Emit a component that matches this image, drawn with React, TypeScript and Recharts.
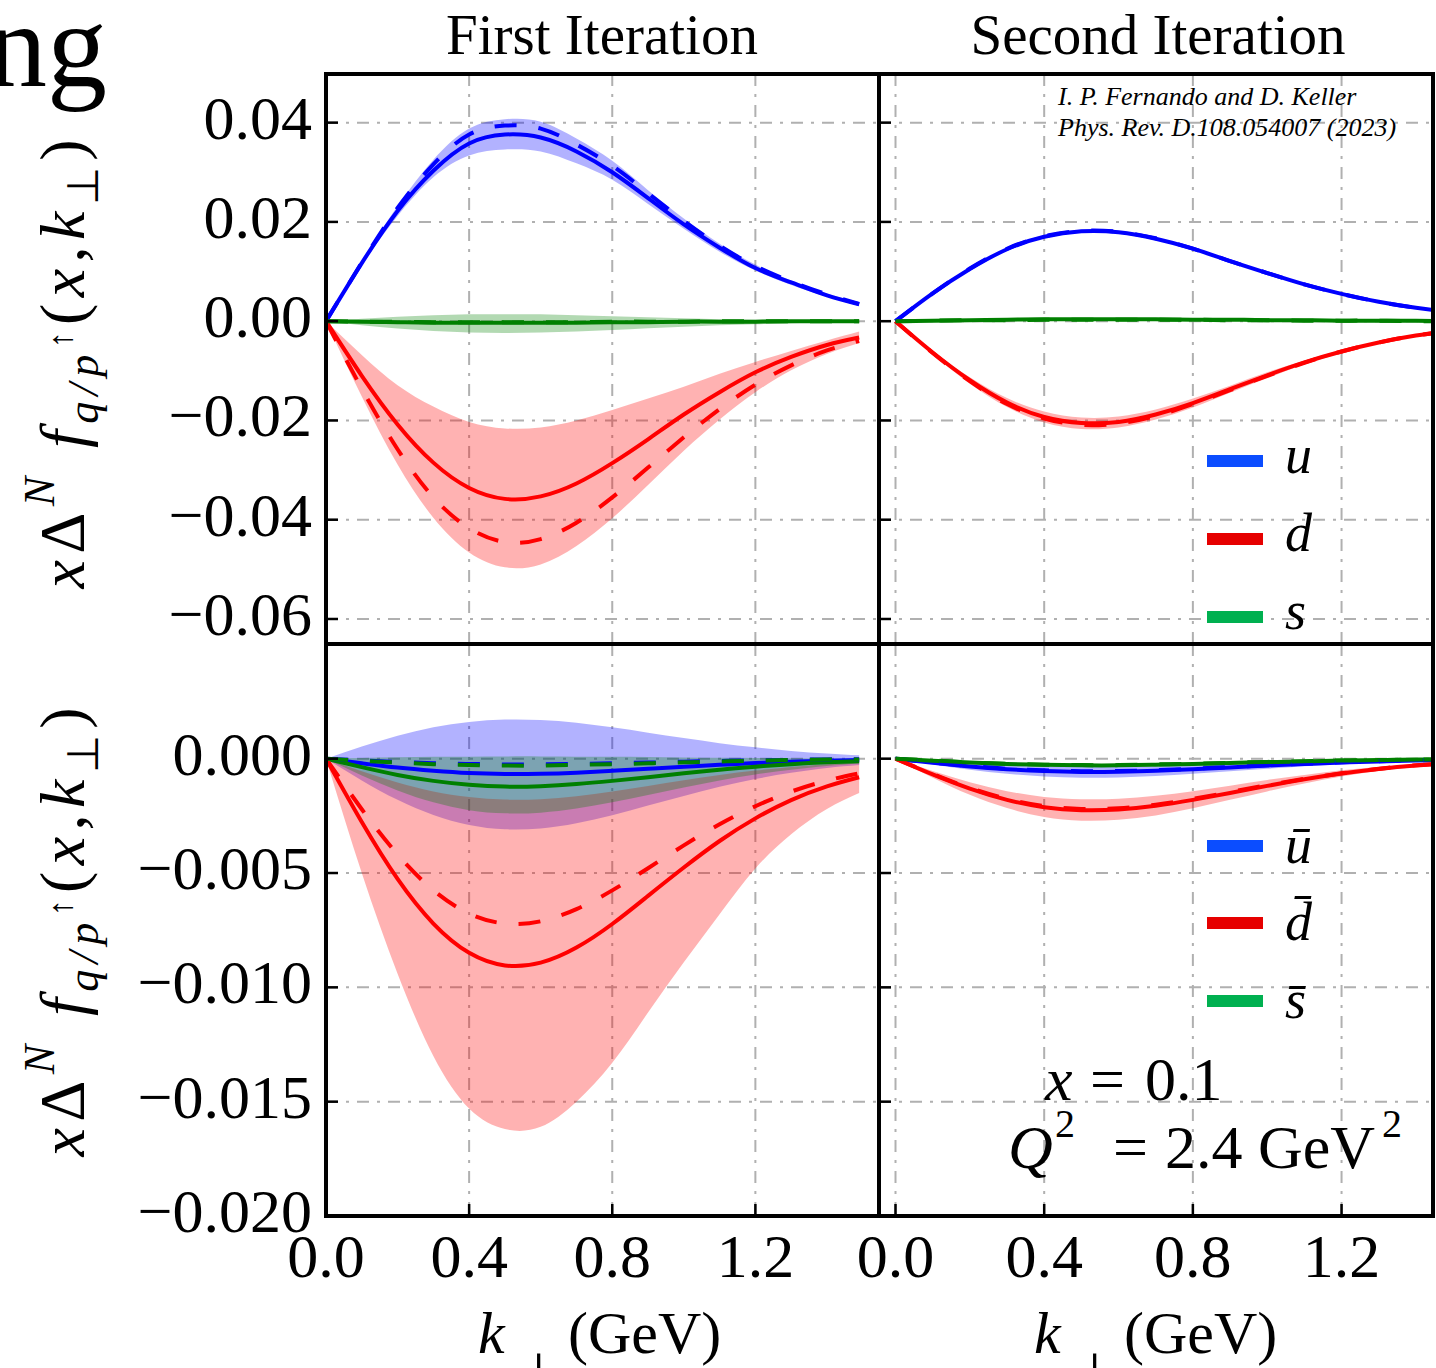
import React from 'react'
import { ComposedChart, Line, Area, XAxis, YAxis, CartesianGrid } from 'recharts'

const SERIF = '"Liberation Serif", "Times New Roman", Times, serif'
const BLUE = '#0000ff'
const RED = '#ff0000'
const GREEN = '#008000'

// transverse momentum grid (GeV)
const kPerp = [0, 0.1, 0.2, 0.3, 0.4, 0.5, 0.6, 0.7, 0.8, 0.9, 1.0, 1.1, 1.2, 1.3, 1.4, 1.49]

// ---- first iteration, quarks
const uSolid1 = [0, 0.0117, 0.0222, 0.0303, 0.0358, 0.0376, 0.0370, 0.0342, 0.0300, 0.0248, 0.0195, 0.0148, 0.0107, 0.0078, 0.0052, 0.0034]
const uDash1 = [0, 0.0118, 0.0228, 0.0316, 0.0376, 0.0394, 0.0388, 0.0356, 0.0313, 0.0258, 0.0202, 0.0152, 0.0111, 0.0080, 0.0054, 0.0035]
const uLo1 = [0, 0.0113, 0.0212, 0.0290, 0.0334, 0.0346, 0.0342, 0.0318, 0.0285, 0.0236, 0.0186, 0.0140, 0.0102, 0.0073, 0.0049, 0.0032]
const uHi1 = [0, 0.0121, 0.0232, 0.0325, 0.0388, 0.0407, 0.0402, 0.0368, 0.0323, 0.0264, 0.0207, 0.0156, 0.0114, 0.0082, 0.0056, 0.0037]
const dSolid1 = [0, -0.0110, -0.0208, -0.0285, -0.0336, -0.0358, -0.0353, -0.0327, -0.0286, -0.0238, -0.0188, -0.0143, -0.0103, -0.0072, -0.0048, -0.0033]
const dDash1 = [0, -0.0136, -0.0258, -0.0355, -0.0417, -0.0445, -0.0439, -0.0406, -0.0355, -0.0295, -0.0234, -0.0177, -0.0128, -0.0089, -0.0059, -0.0040]
const dLo1 = [0, -0.0152, -0.0289, -0.0396, -0.0466, -0.0496, -0.0490, -0.0453, -0.0397, -0.0330, -0.0261, -0.0198, -0.0143, -0.0099, -0.0066, -0.0044]
const dHi1 = [0, -0.0068, -0.0129, -0.0172, -0.0203, -0.0216, -0.0214, -0.0200, -0.0179, -0.0156, -0.0132, -0.0106, -0.0082, -0.0060, -0.0039, -0.0021]
const sSolid1 = [0, -0.0001, -0.0002, -0.0003, -0.0003, -0.0003, -0.0003, -0.0003, -0.0002, -0.0002, -0.0001, -0.0001, -0.0001, 0, 0, 0]
const sDash1 = [0, -0.0001, -0.0001, -0.0002, -0.0002, -0.0002, -0.0002, -0.0002, -0.0001, -0.0001, -0.0001, 0, 0, 0, 0, 0]
const sLo1 = [0, -0.0008, -0.0015, -0.0020, -0.0023, -0.0024, -0.0023, -0.0021, -0.0018, -0.0014, -0.0011, -0.0008, -0.0006, -0.0004, -0.0003, -0.0002]
const sHi1 = [0, 0.0005, 0.0009, 0.0012, 0.0014, 0.0014, 0.0014, 0.0012, 0.0010, 0.0008, 0.0006, 0.0004, 0.0003, 0.0002, 0.0001, 0.0001]

// ---- second iteration, quarks
const uSolid2 = [0, 0.0056, 0.0105, 0.0145, 0.0170, 0.0181, 0.0179, 0.0166, 0.0146, 0.0121, 0.0097, 0.0074, 0.0055, 0.0039, 0.0027, 0.0019]
const uDash2 = [0, 0.0056, 0.0106, 0.0146, 0.0171, 0.0182, 0.0180, 0.0167, 0.0146, 0.0121, 0.0097, 0.0074, 0.0055, 0.0039, 0.0027, 0.0019]
const uLo2 = [0, 0.0055, 0.0103, 0.0142, 0.0167, 0.0178, 0.0176, 0.0163, 0.0144, 0.0119, 0.0095, 0.0073, 0.0054, 0.0038, 0.0026, 0.0018]
const uHi2 = [0, 0.0057, 0.0107, 0.0148, 0.0173, 0.0184, 0.0182, 0.0169, 0.0148, 0.0123, 0.0099, 0.0075, 0.0056, 0.0040, 0.0028, 0.0020]
const dSolid2 = [0, -0.0063, -0.0119, -0.0164, -0.0193, -0.0205, -0.0203, -0.0188, -0.0165, -0.0137, -0.0109, -0.0083, -0.0061, -0.0043, -0.0029, -0.0020]
const dDash2 = [0, -0.0064, -0.0121, -0.0167, -0.0196, -0.0209, -0.0206, -0.0191, -0.0167, -0.0139, -0.0110, -0.0084, -0.0061, -0.0043, -0.0029, -0.0020]
const dLo2 = [0, -0.0066, -0.0126, -0.0173, -0.0204, -0.0217, -0.0214, -0.0198, -0.0174, -0.0144, -0.0115, -0.0087, -0.0064, -0.0045, -0.0030, -0.0021]
const dHi2 = [0, -0.0060, -0.0113, -0.0155, -0.0182, -0.0194, -0.0192, -0.0178, -0.0156, -0.0130, -0.0103, -0.0079, -0.0058, -0.0041, -0.0028, -0.0019]
const sSolid2 = [0, 0.0001, 0.0002, 0.0003, 0.0004, 0.0004, 0.0004, 0.0004, 0.0003, 0.0003, 0.0002, 0.0002, 0.0001, 0.0001, 0.0001, 0]
const sDash2 = [0, 0.0001, 0.0002, 0.0002, 0.0003, 0.0003, 0.0003, 0.0003, 0.0003, 0.0002, 0.0002, 0.0001, 0.0001, 0.0001, 0, 0]
const sLo2 = [0, 0, 0.0001, 0.0001, 0.0002, 0.0002, 0.0002, 0.0002, 0.0002, 0.0001, 0.0001, 0.0001, 0, 0, 0, 0]
const sHi2 = [0, 0.0002, 0.0003, 0.0004, 0.0005, 0.0005, 0.0005, 0.0005, 0.0004, 0.0004, 0.0003, 0.0002, 0.0002, 0.0001, 0.0001, 0.0001]

// ---- first iteration, antiquarks
const ubSolid1 = [0, -0.00020, -0.00039, -0.00053, -0.00063, -0.00067, -0.00066, -0.00061, -0.00053, -0.00044, -0.00035, -0.00027, -0.00019, -0.00013, -0.00009, -0.00006]
const ubDash1 = [0, -0.00008, -0.00014, -0.00020, -0.00023, -0.00025, -0.00025, -0.00023, -0.00020, -0.00017, -0.00013, -0.00010, -0.00007, -0.00005, -0.00003, -0.00002]
const ubLo1 = [0, -0.00095, -0.00180, -0.00246, -0.00290, -0.00309, -0.00305, -0.00282, -0.00247, -0.00205, -0.00163, -0.00123, -0.00089, -0.00062, -0.00041, -0.00028]
const ubHi1 = [0, 0.00053, 0.00100, 0.00137, 0.00161, 0.00171, 0.00169, 0.00157, 0.00137, 0.00114, 0.00090, 0.00068, 0.00050, 0.00034, 0.00023, 0.00015]
const dbSolid1 = [0, -0.00277, -0.00526, -0.00721, -0.00849, -0.00904, -0.00892, -0.00826, -0.00723, -0.00600, -0.00476, -0.00360, -0.00261, -0.00181, -0.00121, -0.00081]
const dbDash1 = [0, -0.00221, -0.00419, -0.00575, -0.00677, -0.00721, -0.00711, -0.00658, -0.00576, -0.00479, -0.00379, -0.00287, -0.00208, -0.00144, -0.00096, -0.00064]
const dbLo1 = [0, -0.0050, -0.0094, -0.0130, -0.0153, -0.0162, -0.0161, -0.0150, -0.0133, -0.0111, -0.0089, -0.0068, -0.0048, -0.0033, -0.0022, -0.0015]
const dbHi1 = [0, -0.00055, -0.00104, -0.00143, -0.00168, -0.00179, -0.00177, -0.00164, -0.00143, -0.00119, -0.00094, -0.00071, -0.00052, -0.00036, -0.00024, -0.00016]
const sbSolid1 = [0, -0.00037, -0.00071, -0.00097, -0.00114, -0.00122, -0.00120, -0.00111, -0.00097, -0.00081, -0.00064, -0.00048, -0.00035, -0.00024, -0.00016, -0.00011]
const sbDash1 = [0, -0.00009, -0.00017, -0.00024, -0.00028, -0.00030, -0.00030, -0.00027, -0.00024, -0.00020, -0.00016, -0.00012, -0.00009, -0.00006, -0.00004, -0.00003]
const sbLo1 = [0, -0.00073, -0.00139, -0.00191, -0.00225, -0.00239, -0.00236, -0.00218, -0.00191, -0.00159, -0.00126, -0.00095, -0.00069, -0.00048, -0.00032, -0.00021]
const sbHi1 = [0, 0.00003, 0.00006, 0.00008, 0.00009, 0.00010, 0.00010, 0.00009, 0.00008, 0.00007, 0.00005, 0.00004, 0.00003, 0.00002, 0.00001, 0.00001]

// ---- second iteration, antiquarks
const ubSolid2 = [0, -0.00018, -0.00034, -0.00046, -0.00054, -0.00058, -0.00057, -0.00053, -0.00046, -0.00038, -0.00030, -0.00023, -0.00017, -0.00012, -0.00008, -0.00005]
const ubDash2 = [0, -0.00017, -0.00032, -0.00044, -0.00051, -0.00055, -0.00054, -0.00050, -0.00044, -0.00036, -0.00029, -0.00022, -0.00016, -0.00011, -0.00007, -0.00005]
const ubLo2 = [0, -0.00025, -0.00048, -0.00066, -0.00078, -0.00083, -0.00082, -0.00076, -0.00066, -0.00055, -0.00044, -0.00033, -0.00024, -0.00017, -0.00011, -0.00007]
const ubHi2 = [0, -0.00011, -0.00021, -0.00029, -0.00034, -0.00036, -0.00035, -0.00033, -0.00029, -0.00024, -0.00019, -0.00014, -0.00010, -0.00007, -0.00005, -0.00003]
const dbSolid2 = [0, -0.00069, -0.00131, -0.00180, -0.00212, -0.00225, -0.00222, -0.00206, -0.00180, -0.00150, -0.00119, -0.00090, -0.00065, -0.00045, -0.00030, -0.00020]
const dbDash2 = [0, -0.00067, -0.00128, -0.00176, -0.00207, -0.00220, -0.00217, -0.00201, -0.00176, -0.00146, -0.00116, -0.00088, -0.00064, -0.00044, -0.00029, -0.00020]
const dbLo2 = [0, -0.00083, -0.00158, -0.00216, -0.00255, -0.00271, -0.00267, -0.00248, -0.00217, -0.00180, -0.00143, -0.00108, -0.00078, -0.00054, -0.00036, -0.00024]
const dbHi2 = [0, -0.00054, -0.00103, -0.00142, -0.00167, -0.00177, -0.00175, -0.00162, -0.00142, -0.00118, -0.00093, -0.00071, -0.00051, -0.00036, -0.00024, -0.00016]
const sbSolid2 = [0, -0.00009, -0.00017, -0.00023, -0.00027, -0.00029, -0.00029, -0.00026, -0.00023, -0.00019, -0.00015, -0.00012, -0.00008, -0.00006, -0.00004, -0.00003]
const sbDash2 = [0, -0.00008, -0.00016, -0.00022, -0.00026, -0.00028, -0.00028, -0.00025, -0.00022, -0.00018, -0.00014, -0.00011, -0.00008, -0.00006, -0.00004, -0.00003]
const sbLo2 = [0, -0.00011, -0.00021, -0.00029, -0.00033, -0.00035, -0.00034, -0.00031, -0.00028, -0.00023, -0.00018, -0.00014, -0.00010, -0.00007, -0.00005, -0.00004]
const sbHi2 = [0, -0.00007, -0.00013, -0.00017, -0.00021, -0.00023, -0.00024, -0.00021, -0.00018, -0.00015, -0.00012, -0.00010, -0.00006, -0.00005, -0.00003, -0.00002]

// ticks
const kTicks = [0, 0.4, 0.8, 1.2]
const quarkTicks = [0.04, 0.02, 0, -0.02, -0.04, -0.06]
const antiTicks = [0, -0.005, -0.01, -0.015, -0.02]

const quarkLegend = [{ label: 'u', color: '#0b4dff' }, { label: 'd', color: '#e60000' }, { label: 's', color: '#00b050' }]
const antiLegend = [{ label: 'u\u0304', color: '#0b4dff' }, { label: 'd\u0304', color: '#e60000' }, { label: 's\u0304', color: '#00b050' }]

type Flavour = { id: string; color: string; solid: number[]; dash: number[]; lo: number[]; hi: number[] }

const firstQuarks: Flavour[] = [
  { id: 'u', color: BLUE, solid: uSolid1, dash: uDash1, lo: uLo1, hi: uHi1 },
  { id: 'd', color: RED, solid: dSolid1, dash: dDash1, lo: dLo1, hi: dHi1 },
  { id: 's', color: GREEN, solid: sSolid1, dash: sDash1, lo: sLo1, hi: sHi1 },
]
const secondQuarks: Flavour[] = [
  { id: 'u', color: BLUE, solid: uSolid2, dash: uDash2, lo: uLo2, hi: uHi2 },
  { id: 'd', color: RED, solid: dSolid2, dash: dDash2, lo: dLo2, hi: dHi2 },
  { id: 's', color: GREEN, solid: sSolid2, dash: sDash2, lo: sLo2, hi: sHi2 },
]
const firstAnti: Flavour[] = [
  { id: 'ub', color: BLUE, solid: ubSolid1, dash: ubDash1, lo: ubLo1, hi: ubHi1 },
  { id: 'db', color: RED, solid: dbSolid1, dash: dbDash1, lo: dbLo1, hi: dbHi1 },
  { id: 'sb', color: GREEN, solid: sbSolid1, dash: sbDash1, lo: sbLo1, hi: sbHi1 },
]
const secondAnti: Flavour[] = [
  { id: 'ub', color: BLUE, solid: ubSolid2, dash: ubDash2, lo: ubLo2, hi: ubHi2 },
  { id: 'db', color: RED, solid: dbSolid2, dash: dbDash2, lo: dbLo2, hi: dbHi2 },
  { id: 'sb', color: GREEN, solid: sbSolid2, dash: sbDash2, lo: sbLo2, hi: sbHi2 },
]

function buildRows(set: Flavour[]) {
  return kPerp.map((k, i) => {
    const row: Record<string, any> = { k }
    set.forEach(f => {
      row[f.id + 'Band'] = [f.lo[i], f.hi[i]]
      row[f.id + 'Solid'] = f.solid[i]
      row[f.id + 'Dash'] = f.dash[i]
    })
    return row
  })
}

const fmtY = (v: number, digits: number) => v.toFixed(digits).replace('-', '\u2212')

const TICK = { stroke: '#000', strokeWidth: 2.5 }

function LeftTick(p: any) {
  return (
    <g>
      <line x1={p.x} x2={p.x + 12} y1={p.y} y2={p.y} {...TICK} />
      {p.showLabel && (
        <text x={p.x - 14} y={p.y + 16} textAnchor="end" fontFamily={SERIF} fontSize={62} fill="#000">
          {fmtY(p.payload.value, p.digits)}
        </text>
      )}
    </g>
  )
}
const RightTick = (p: any) => <line x1={p.x - 12} x2={p.x} y1={p.y} y2={p.y} {...TICK} />
const TopTick = (p: any) => <line x1={p.x} x2={p.x} y1={p.y} y2={p.y + 12} {...TICK} />
function BottomTick(p: any) {
  return (
    <g>
      <line x1={p.x} x2={p.x} y1={p.y - 12} y2={p.y} {...TICK} />
      {p.showLabel && (
        <text x={p.x} y={p.y + 61} textAnchor="middle" fontFamily={SERIF} fontSize={62} fill="#000">
          {p.payload.value.toFixed(1)}
        </text>
      )}
    </g>
  )
}

type PanelProps = {
  left: number; top: number; plotW: number; plotH: number; axisW: number; axisH: number
  xDomain: [number, number]; yDomain: [number, number]; yTicks: number[]; digits: number
  flavours: Flavour[]; showY: boolean; showX: boolean
}

function Panel({ left, top, plotW, plotH, axisW, axisH, xDomain, yDomain, yTicks, digits, flavours, showY, showX }: PanelProps) {
  const rows = buildRows(flavours)
  const common = { axisLine: false, tickLine: false, tickSize: 0, tickMargin: 0, interval: 0 as const, allowDataOverflow: true, type: 'number' as const }
  return (
    <div style={{ position: 'absolute', left: left - axisW, top }}>
      <ComposedChart width={plotW + axisW} height={plotH + axisH} data={rows} margin={{ top: 0, right: 0, bottom: 0, left: 0 }}>
        <CartesianGrid stroke="#b0b0b0" strokeWidth={2} strokeDasharray="12 8 3 8" />
        <XAxis {...common} dataKey="k" domain={xDomain} ticks={kTicks} height={axisH}
          tick={(p: any) => <BottomTick {...p} showLabel={showX} />} />
        <XAxis {...common} xAxisId="top" orientation="top" dataKey="k" domain={xDomain} ticks={kTicks} height={0}
          tick={(p: any) => <TopTick {...p} />} />
        <YAxis {...common} domain={yDomain} ticks={yTicks} width={axisW}
          tick={(p: any) => <LeftTick {...p} showLabel={showY} digits={digits} />} />
        <YAxis {...common} yAxisId="right" orientation="right" domain={yDomain} ticks={yTicks} width={0}
          tick={(p: any) => <RightTick {...p} />} />
        {flavours.map(f => (
          <Area key={f.id + 'Band'} dataKey={f.id + 'Band'} type="natural" fill={f.color} fillOpacity={0.3}
            stroke="none" dot={false} activeDot={false} isAnimationActive={false} />
        ))}
        {flavours.map(f => (
          <Line key={f.id + 'Solid'} dataKey={f.id + 'Solid'} type="natural" stroke={f.color} strokeWidth={4}
            dot={false} activeDot={false} isAnimationActive={false} />
        ))}
        {flavours.map(f => (
          <Line key={f.id + 'Dash'} dataKey={f.id + 'Dash'} type="natural" stroke={f.color} strokeWidth={4}
            strokeDasharray="22 22" dot={false} activeDot={false} isAnimationActive={false} />
        ))}
      </ComposedChart>
    </div>
  )
}

function YTitle({ cy }: { cy: number }) {
  return (
    <text transform={`translate(84, ${cy}) rotate(-90)`} textAnchor="middle" fontFamily={SERIF} fontSize={64}
      textLength={449} lengthAdjust="spacing" fill="#000">
      <tspan fontStyle="italic">x</tspan>
      <tspan>Δ</tspan>
      <tspan fontStyle="italic" fontSize={44} dy={-30}>N</tspan>
      <tspan fontStyle="italic" dy={30}>{'\u00a0f'}</tspan>
      <tspan fontStyle="italic" fontSize={44} dy={14}>q/p</tspan>
      <tspan fontSize={34} dy={-26}>↑</tspan>
      <tspan dy={12}>(</tspan>
      <tspan fontStyle="italic">x</tspan>
      <tspan>,</tspan>
      <tspan fontStyle="italic">k</tspan>
      <tspan fontSize={44} dy={14}>⊥</tspan>
      <tspan dy={-14}>)</tspan>
    </text>
  )
}

function XTitle({ x0 }: { x0: number }) {
  return (
    <g fontFamily={SERIF} fill="#000">
      <text x={x0} y={1353} fontSize={60} fontStyle="italic">k</text>
      <text x={x0 + 38} y={1390} fontSize={52}>⊥</text>
      <text x={x0 + 90} y={1353} fontSize={60}>(GeV)</text>
    </g>
  )
}

function LegendBox({ items, x, ys, dyText }: { items: { label: string; color: string }[]; x: number; ys: number[]; dyText: number }) {
  return (
    <g>
      {items.map((it, i) => (
        <g key={it.label}>
          <line x1={x} x2={x + 56} y1={ys[i]} y2={ys[i]} stroke={it.color} strokeWidth={12} />
          <text x={x + 78} y={ys[i] + dyText} fontFamily={SERIF} fontStyle="italic" fontSize={54} fill="#000">{it.label}</text>
        </g>
      ))}
    </g>
  )
}

export default function App() {
  const leftX: [number, number] = [0, 1.5455]
  const rightX: [number, number] = [-0.0444, 1.446]
  const topY: [number, number] = [-0.06504, 0.0498]
  const botY: [number, number] = [-0.02, 0.005016]
  return (
    <div style={{ position: 'absolute', left: 0, top: 0, width: 1436, height: 1368, background: '#fff', overflow: 'hidden' }}>
      <Panel left={326} top={74} plotW={553} plotH={570} axisW={206} axisH={0} xDomain={leftX} yDomain={topY}
        yTicks={quarkTicks} digits={2} flavours={firstQuarks} showY showX={false} />
      <Panel left={879} top={74} plotW={554} plotH={570} axisW={40} axisH={0} xDomain={rightX} yDomain={topY}
        yTicks={quarkTicks} digits={2} flavours={secondQuarks} showY={false} showX={false} />
      <Panel left={326} top={644} plotW={553} plotH={572} axisW={206} axisH={152} xDomain={leftX} yDomain={botY}
        yTicks={antiTicks} digits={3} flavours={firstAnti} showY showX />
      <Panel left={879} top={644} plotW={554} plotH={572} axisW={40} axisH={152} xDomain={rightX} yDomain={botY}
        yTicks={antiTicks} digits={3} flavours={secondAnti} showY={false} showX />

      <svg width={1436} height={1368} style={{ position: 'absolute', left: 0, top: 0, pointerEvents: 'none' }}>
        <text x={-13} y={86} fontFamily={SERIF} fontSize={120} fill="#000">ng</text>
        <text x={602} y={54} textAnchor="middle" fontFamily={SERIF} fontSize={57} fill="#000">First Iteration</text>
        <text x={1158} y={54} textAnchor="middle" fontFamily={SERIF} fontSize={57} fill="#000">Second Iteration</text>

        <rect x={326} y={74} width={1107} height={1142} fill="none" stroke="#000" strokeWidth={4} />
        <line x1={879} x2={879} y1={74} y2={1216} stroke="#000" strokeWidth={4} />
        <line x1={326} x2={1433} y1={644} y2={644} stroke="#000" strokeWidth={4} />

        <g fontFamily={SERIF} fontStyle="italic" fontSize={26} fill="#000">
          <text x={1058} y={105}>I. P. Fernando and D. Keller</text>
          <text x={1058} y={136}>Phys. Rev. D.108.054007 (2023)</text>
        </g>

        <LegendBox items={quarkLegend} x={1207} ys={[461, 539, 617]} dyText={12} />
        <LegendBox items={antiLegend} x={1207} ys={[846, 923, 1001]} dyText={17} />

        <g fontFamily={SERIF} fontSize={62} fill="#000">
          <text x={1045} y={1100} fontStyle="italic">x</text>
          <text x={1090} y={1100}>=</text>
          <text x={1145} y={1100}>0.1</text>
          <text x={1008} y={1168} fontStyle="italic">Q</text>
          <text x={1055} y={1137} fontSize={40}>2</text>
          <text x={1113} y={1168}>=</text>
          <text x={1165} y={1168}>2.4 GeV</text>
          <text x={1382} y={1137} fontSize={40}>2</text>
        </g>

        <YTitle cy={364} />
        <YTitle cy={932} />
        <XTitle x0={478} />
        <XTitle x0={1034} />
      </svg>
    </div>
  )
}
